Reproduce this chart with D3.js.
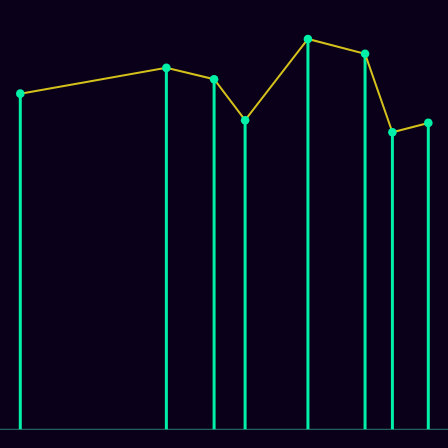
<!DOCTYPE html>
<html>
<head>
<meta charset="utf-8">
<script src="https://cdn.jsdelivr.net/npm/d3@7"></script>
<style>
  html, body { margin: 0; padding: 0; background: #0a0019; }
  svg { display: block; }
</style>
</head>
<body>
<div id="chart"></div>
<script>
// positions along x and stem heights
const xValues = [0, 35.8, 47.5, 55.1, 70.5, 84.5, 91.2, 100];
const yValues = [86.0, 92.6, 89.7, 79.2, 100, 96.2, 76.1, 78.5];

const width = 448, height = 448;
const stemColor = "#00f0a8";
const lineColor = "#d4c11c";

const svg = d3.select("#chart")
  .append("svg")
  .attr("width", width)
  .attr("height", height);

svg.append("rect")
  .attr("width", width)
  .attr("height", height)
  .attr("fill", "#0a0019");

const x = d3.scaleLinear().domain([0, 100]).range([20.3, 428.3]);
const y = d3.scaleLinear().domain([0, 100]).range([429.3, 39]);

const data = xValues.map((v, i) => ({ x: v, y: yValues[i] }));

// baseline
svg.append("line")
  .attr("x1", 0)
  .attr("x2", width)
  .attr("y1", y(0))
  .attr("y2", y(0))
  .attr("stroke", "#2a7a70")
  .attr("stroke-width", 1);

// stems
svg.append("g")
  .selectAll("line")
  .data(data)
  .join("line")
  .attr("x1", d => x(d.x))
  .attr("x2", d => x(d.x))
  .attr("y1", y(0))
  .attr("y2", d => y(d.y))
  .attr("stroke", stemColor)
  .attr("stroke-width", 3);

// connecting line
svg.append("path")
  .datum(data)
  .attr("fill", "none")
  .attr("stroke", lineColor)
  .attr("stroke-width", 2)
  .attr("d", d3.line().x(d => x(d.x)).y(d => y(d.y)));

// markers
svg.append("g")
  .selectAll("circle")
  .data(data)
  .join("circle")
  .attr("cx", d => x(d.x))
  .attr("cy", d => y(d.y))
  .attr("r", 4.3)
  .attr("fill", stemColor);
</script>
</body>
</html>
